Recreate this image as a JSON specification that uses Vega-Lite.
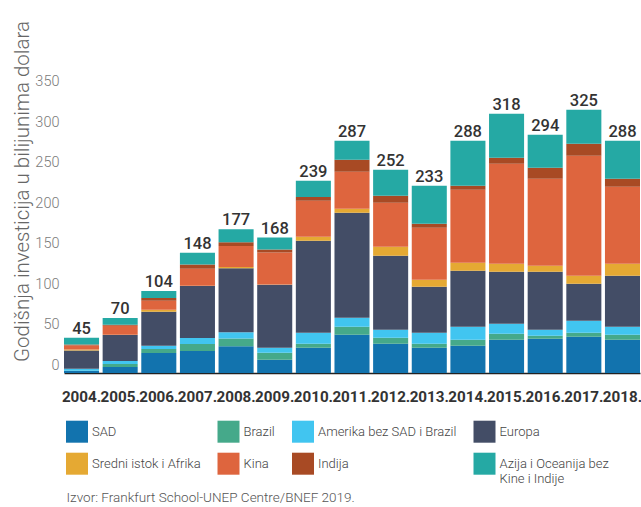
{
  "$schema": "https://vega.github.io/schema/vega-lite/v6.json",
  "width": 576,
  "height": 366,
  "autosize": {"type": "none"},
  "padding": {"left": 64, "top": 7, "right": 1, "bottom": 134},
  "background": "white",
  "config": {"view": {"stroke": null}},
  "datasets": {
    "segments": [
      {"year":"2004","region":"SAD","value":2.5},{"year":"2004","region":"Brazil","value":0.3},{"year":"2004","region":"Amerika bez SAD i Brazil","value":2.5},{"year":"2004","region":"Europa","value":22.6},{"year":"2004","region":"Sredni istok i Afrika","value":1.2},{"year":"2004","region":"Kina","value":4.9},{"year":"2004","region":"Indija","value":1.2},{"year":"2004","region":"Azija i Oceanija bez Kine i Indije","value":8.2},
      {"year":"2005","region":"SAD","value":7.4},{"year":"2005","region":"Brazil","value":3.7},{"year":"2005","region":"Amerika bez SAD i Brazil","value":3.7},{"year":"2005","region":"Europa","value":32.1},{"year":"2005","region":"Sredni istok i Afrika","value":0.4},{"year":"2005","region":"Kina","value":11.1},{"year":"2005","region":"Indija","value":1.2},{"year":"2005","region":"Azija i Oceanija bez Kine i Indije","value":8.3},
      {"year":"2006","region":"SAD","value":24.7},{"year":"2006","region":"Brazil","value":4.9},{"year":"2006","region":"Amerika bez SAD i Brazil","value":4.1},{"year":"2006","region":"Europa","value":42},{"year":"2006","region":"Sredni istok i Afrika","value":2.5},{"year":"2006","region":"Kina","value":11.1},{"year":"2006","region":"Indija","value":3.3},{"year":"2006","region":"Azija i Oceanija bez Kine i Indije","value":8.6},
      {"year":"2007","region":"SAD","value":27.2},{"year":"2007","region":"Brazil","value":8.6},{"year":"2007","region":"Amerika bez SAD i Brazil","value":7.4},{"year":"2007","region":"Europa","value":64.2},{"year":"2007","region":"Sredni istok i Afrika","value":0.3},{"year":"2007","region":"Kina","value":21},{"year":"2007","region":"Indija","value":5.3},{"year":"2007","region":"Azija i Oceanija bez Kine i Indije","value":14.4},
      {"year":"2008","region":"SAD","value":33},{"year":"2008","region":"Brazil","value":9.5},{"year":"2008","region":"Amerika bez SAD i Brazil","value":7.8},{"year":"2008","region":"Europa","value":79},{"year":"2008","region":"Sredni istok i Afrika","value":1.6},{"year":"2008","region":"Kina","value":25.9},{"year":"2008","region":"Indija","value":4.6},{"year":"2008","region":"Azija i Oceanija bez Kine i Indije","value":16},
      {"year":"2009","region":"SAD","value":16.4},{"year":"2009","region":"Brazil","value":8.6},{"year":"2009","region":"Amerika bez SAD i Brazil","value":6.2},{"year":"2009","region":"Europa","value":77.8},{"year":"2009","region":"Sredni istok i Afrika","value":0.3},{"year":"2009","region":"Kina","value":39.5},{"year":"2009","region":"Indija","value":3.7},{"year":"2009","region":"Azija i Oceanija bez Kine i Indije","value":14.8},
      {"year":"2010","region":"SAD","value":31.2},{"year":"2010","region":"Brazil","value":4.9},{"year":"2010","region":"Amerika bez SAD i Brazil","value":13.6},{"year":"2010","region":"Europa","value":113.6},{"year":"2010","region":"Sredni istok i Afrika","value":4.9},{"year":"2010","region":"Kina","value":44.4},{"year":"2010","region":"Indija","value":4.9},{"year":"2010","region":"Azija i Oceanija bez Kine i Indije","value":19.8},
      {"year":"2011","region":"SAD","value":47.3},{"year":"2011","region":"Brazil","value":9.9},{"year":"2011","region":"Amerika bez SAD i Brazil","value":11.1},{"year":"2011","region":"Europa","value":129.6},{"year":"2011","region":"Sredni istok i Afrika","value":4.9},{"year":"2011","region":"Kina","value":45.7},{"year":"2011","region":"Indija","value":14.8},{"year":"2011","region":"Azija i Oceanija bez Kine i Indije","value":23.5},
      {"year":"2012","region":"SAD","value":36.2},{"year":"2012","region":"Brazil","value":7.4},{"year":"2012","region":"Amerika bez SAD i Brazil","value":9.9},{"year":"2012","region":"Europa","value":91.4},{"year":"2012","region":"Sredni istok i Afrika","value":11.1},{"year":"2012","region":"Kina","value":54.3},{"year":"2012","region":"Indija","value":8.6},{"year":"2012","region":"Azija i Oceanija bez Kine i Indije","value":32.1},
      {"year":"2013","region":"SAD","value":31.2},{"year":"2013","region":"Brazil","value":4.9},{"year":"2013","region":"Amerika bez SAD i Brazil","value":13.6},{"year":"2013","region":"Europa","value":56.8},{"year":"2013","region":"Sredni istok i Afrika","value":8.6},{"year":"2013","region":"Kina","value":64.2},{"year":"2013","region":"Indija","value":4.9},{"year":"2013","region":"Azija i Oceanija bez Kine i Indije","value":46.9},
      {"year":"2014","region":"SAD","value":33.7},{"year":"2014","region":"Brazil","value":7.4},{"year":"2014","region":"Amerika bez SAD i Brazil","value":16},{"year":"2014","region":"Europa","value":69.1},{"year":"2014","region":"Sredni istok i Afrika","value":9.9},{"year":"2014","region":"Kina","value":90.1},{"year":"2014","region":"Indija","value":4.9},{"year":"2014","region":"Azija i Oceanija bez Kine i Indije","value":55.6},
      {"year":"2015","region":"SAD","value":41.1},{"year":"2015","region":"Brazil","value":7.4},{"year":"2015","region":"Amerika bez SAD i Brazil","value":12.3},{"year":"2015","region":"Europa","value":64.2},{"year":"2015","region":"Sredni istok i Afrika","value":9.9},{"year":"2015","region":"Kina","value":123.5},{"year":"2015","region":"Indija","value":7.4},{"year":"2015","region":"Azija i Oceanija bez Kine i Indije","value":54.3},
      {"year":"2016","region":"SAD","value":42.3},{"year":"2016","region":"Brazil","value":3.7},{"year":"2016","region":"Amerika bez SAD i Brazil","value":7.4},{"year":"2016","region":"Europa","value":71.6},{"year":"2016","region":"Sredni istok i Afrika","value":7.4},{"year":"2016","region":"Kina","value":107.4},{"year":"2016","region":"Indija","value":13.6},{"year":"2016","region":"Azija i Oceanija bez Kine i Indije","value":40.7},
      {"year":"2017","region":"SAD","value":44.8},{"year":"2017","region":"Brazil","value":4.9},{"year":"2017","region":"Amerika bez SAD i Brazil","value":14.8},{"year":"2017","region":"Europa","value":45.7},{"year":"2017","region":"Sredni istok i Afrika","value":9.9},{"year":"2017","region":"Kina","value":148.1},{"year":"2017","region":"Indija","value":14.8},{"year":"2017","region":"Azija i Oceanija bez Kine i Indije","value":42},
      {"year":"2018","region":"SAD","value":41.1},{"year":"2018","region":"Brazil","value":6.2},{"year":"2018","region":"Amerika bez SAD i Brazil","value":9.9},{"year":"2018","region":"Europa","value":63},{"year":"2018","region":"Sredni istok i Afrika","value":14.8},{"year":"2018","region":"Kina","value":95.1},{"year":"2018","region":"Indija","value":9.9},{"year":"2018","region":"Azija i Oceanija bez Kine i Indije","value":46.9}
    ],
    "regions": [
      {"region":"SAD","rank":1},{"region":"Brazil","rank":2},{"region":"Amerika bez SAD i Brazil","rank":3},{"region":"Europa","rank":4},{"region":"Sredni istok i Afrika","rank":5},{"region":"Kina","rank":6},{"region":"Indija","rank":7},{"region":"Azija i Oceanija bez Kine i Indije","rank":8}
    ],
    "totals": [
      {"year":"2004","label":"45"},{"year":"2005","label":"70"},{"year":"2006","label":"104"},{"year":"2007","label":"148"},{"year":"2008","label":"177"},{"year":"2009","label":"168"},{"year":"2010","label":"239"},{"year":"2011","label":"287"},{"year":"2012","label":"252"},{"year":"2013","label":"233"},{"year":"2014","label":"288"},{"year":"2015","label":"318"},{"year":"2016","label":"294"},{"year":"2017","label":"325"},{"year":"2018","label":"288"}
    ]
  },
  "data": {"name": "segments"},
  "layer": [
    {
      "transform": [
        {"lookup": "region", "from": {"data": {"name": "regions"}, "key": "region", "fields": ["rank"]}}
      ],
      "mark": {"type": "bar"},
      "encoding": {
        "x": {
          "field": "year", "type": "nominal",
          "scale": {"paddingInner": 0.093, "paddingOuter": 0},
          "axis": {
            "labelAngle": 0,
            "labelExpr": "datum.label + '.'",
            "labelFont": "Roboto",
            "labelFontSize": 15.2,
            "labelFontWeight": "bold",
            "labelColor": "#333333",
            "labelBaseline": "alphabetic",
            "labelPadding": 28.4,
            "labelOverlap": false,
            "ticks": false,
            "tickSize": 0,
            "domain": true,
            "domainColor": "#222222",
            "domainWidth": 1.5,
            "grid": false,
            "title": "Izvor: Frankfurt School-UNEP Centre/BNEF 2019.",
            "titleFont": "Roboto",
            "titleFontSize": 13.5,
            "titleFontWeight": 300,
            "titleColor": "#555555",
            "titleAlign": "left",
            "titleAnchor": "start",
            "titleBaseline": "alphabetic",
            "titleX": 2,
            "titleY": 128.2
          }
        },
        "y": {
          "field": "value", "type": "quantitative", "aggregate": "sum", "stack": "zero",
          "scale": {"domain": [0, 452], "nice": false},
          "axis": {
            "values": [0, 50, 100, 150, 200, 250, 300, 350],
            "grid": false, "domain": false, "ticks": false, "tickSize": 0,
            "labelFont": "Roboto",
            "labelFontWeight": 300,
            "labelFontSize": 14.5,
            "labelColor": "#7a7a7a",
            "labelPadding": 5,
            "labelOffset": -8,
            "title": "Godišnja investicija u bilijunima dolara",
            "titleFont": "Roboto",
            "titleFontWeight": 300,
            "titleFontSize": 20.5,
            "titleColor": "#666666",
            "titleBaseline": "bottom",
            "titleX": -32,
            "titleY": 184
          }
        },
        "color": {
          "field": "region", "type": "nominal",
          "sort": ["SAD", "Brazil", "Amerika bez SAD i Brazil", "Europa", "Sredni istok i Afrika", "Kina", "Indija", "Azija i Oceanija bez Kine i Indije"],
          "scale": {
            "domain": ["SAD", "Brazil", "Amerika bez SAD i Brazil", "Europa", "Sredni istok i Afrika", "Kina", "Indija", "Azija i Oceanija bez Kine i Indije"],
            "range": ["#1273ae", "#45a98a", "#41c5f0", "#434d66", "#e5a933", "#de653e", "#a84a24", "#25a9a4"]
          },
          "legend": {
            "orient": "none",
            "legendX": 2,
            "legendY": 413.7,
            "direction": "horizontal",
            "columns": 4,
            "title": null,
            "padding": 0,
            "symbolType": "square",
            "symbolSize": 484,
            "symbolStrokeWidth": 0,
            "symbolOpacity": 1,
            "labelFont": "Roboto",
            "labelFontWeight": 300,
            "labelFontSize": 13,
            "labelColor": "#444444",
            "labelOffset": 4,
            "labelLimit": 300,
            "columnPadding": 16.5,
            "rowPadding": 10,
            "labelExpr": "datum.label == 'Azija i Oceanija bez Kine i Indije' ? ['Azija i Oceanija bez', 'Kine i Indije'] : datum.label"
          }
        },
        "order": {"field": "rank", "type": "quantitative"}
      }
    },
    {
      "transform": [
        {"aggregate": [{"op": "sum", "field": "value", "as": "total"}], "groupby": ["year"]},
        {"lookup": "year", "from": {"data": {"name": "totals"}, "key": "year", "fields": ["label"]}}
      ],
      "mark": {"type": "text", "font": "Roboto", "fontSize": 16.5, "fontWeight": 500, "color": "#333333", "baseline": "alphabetic", "dy": -4},
      "encoding": {
        "x": {"field": "year", "type": "nominal"},
        "y": {"field": "total", "type": "quantitative"},
        "text": {"field": "label"}
      }
    }
  ]
}
